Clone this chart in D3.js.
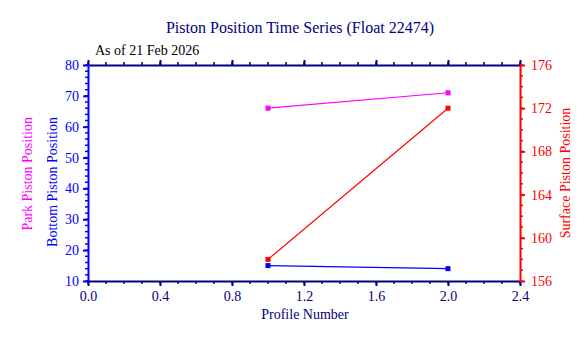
<!DOCTYPE html>
<html>
<head>
<meta charset="utf-8">
<script src="https://cdn.jsdelivr.net/npm/d3@7"></script>
<style>
  html, body { margin: 0; padding: 0; background: #fff; }
  svg { display: block; font-family: "Liberation Serif", "DejaVu Serif", serif; }
</style>
</head>
<body>
<svg id="chart" width="588" height="338"></svg>
<script>
// Piston positions per profile
const profiles = [1, 2];
const parkPosition = [66, 71];
const bottomPosition = [15, 14];
const surfacePosition = [158, 172];

const xTicks = [0.0, 0.4, 0.8, 1.2, 1.6, 2.0, 2.4];
const leftTicks = [10, 20, 30, 40, 50, 60, 70, 80];
const rightTicks = [156, 160, 164, 168, 172, 176];

const titleText = "Piston Position Time Series (Float 22474)";
const dateText = "As of 21 Feb 2026";

const NAVY = "#000080", BLUE = "#0000ff", RED = "#ff0000", MAGENTA = "#ff00ff";

const svg = d3.select("#chart");
const m = { left: 88, right: 520, top: 65, bottom: 281 };

const x = d3.scaleLinear().domain([0, 2.4]).range([m.left, m.right]);
const yL = d3.scaleLinear().domain([10, 80]).range([m.bottom, m.top]);
const yR = d3.scaleLinear().domain([156, 176]).range([m.bottom, m.top]);

// minor tick helper
function minorTicks(g, scale, values, orient, len, color) {
  values.forEach(v => {
    const p = scale(v);
    const line = g.append("line").attr("stroke", color).attr("stroke-width", 1.5);
    if (orient === "left") line.attr("x1", 0).attr("x2", -len).attr("y1", p).attr("y2", p);
    if (orient === "right") line.attr("x1", 0).attr("x2", len).attr("y1", p).attr("y2", p);
    if (orient === "bottom") line.attr("y1", 0).attr("y2", len).attr("x1", p).attr("x2", p);
    if (orient === "top") line.attr("y1", 0).attr("y2", -len).attr("x1", p).attr("x2", p);
  });
}

function styleAxis(g, color) {
  g.select(".domain").attr("stroke", color).attr("stroke-width", 2);
  g.selectAll(".tick line").attr("stroke", color).attr("stroke-width", 2);
  g.selectAll(".tick text").attr("fill", color)
    .attr("font-family", "'Liberation Serif', 'DejaVu Serif', serif")
    .attr("font-size", 14);
}

const xMinor = d3.range(0, 2.401, 0.1).map(v => +v.toFixed(2));
const lMinor = d3.range(10, 80.01, 2);
const rMinor = d3.range(156, 176.01, 1);

// top axis (no labels)
const gTop = svg.append("g").attr("transform", `translate(0,${m.top})`);
gTop.call(d3.axisTop(x).tickValues(xTicks).tickSize(5).tickSizeOuter(0).tickFormat(""));
styleAxis(gTop, NAVY);
minorTicks(gTop, x, xMinor, "top", 3, NAVY);

// bottom axis
const gBot = svg.append("g").attr("transform", `translate(0,${m.bottom})`);
gBot.call(d3.axisBottom(x).tickValues(xTicks).tickSize(5).tickSizeOuter(0).tickPadding(5)
  .tickFormat(d3.format(".1f")));
styleAxis(gBot, NAVY);
minorTicks(gBot, x, xMinor, "bottom", 3, NAVY);

// left axis
const gLeft = svg.append("g").attr("transform", `translate(${m.left},0)`);
gLeft.call(d3.axisLeft(yL).tickValues(leftTicks).tickSize(5).tickSizeOuter(0).tickPadding(4)
  .tickFormat(d3.format("d")));
styleAxis(gLeft, BLUE);
minorTicks(gLeft, yL, lMinor, "left", 3, BLUE);

// right axis
const gRight = svg.append("g").attr("transform", `translate(${m.right},0)`);
gRight.call(d3.axisRight(yR).tickValues(rightTicks).tickSize(5).tickSizeOuter(0).tickPadding(6)
  .tickFormat(d3.format("d")));
styleAxis(gRight, RED);
minorTicks(gRight, yR, rMinor, "right", 3, RED);

// series
function drawSeries(values, yScale, color) {
  const pts = profiles.map((p, i) => [x(p), yScale(values[i])]);
  svg.append("path")
    .attr("d", d3.line()(pts))
    .attr("fill", "none").attr("stroke", color).attr("stroke-width", 1.2);
  svg.selectAll(null).data(pts).enter().append("rect")
    .attr("x", d => d[0] - 2.5).attr("y", d => d[1] - 2.5)
    .attr("width", 5).attr("height", 5).attr("fill", color);
}
drawSeries(parkPosition, yL, MAGENTA);
drawSeries(surfacePosition, yR, RED);
drawSeries(bottomPosition, yL, BLUE);

// titles
svg.append("text").attr("x", 300).attr("y", 33).attr("text-anchor", "middle")
  .attr("fill", NAVY).attr("font-size", 16).text(titleText);
svg.append("text").attr("x", 95).attr("y", 55)
  .attr("fill", "#000").attr("font-size", 14).text(dateText);
svg.append("text").attr("x", 305).attr("y", 319).attr("text-anchor", "middle")
  .attr("fill", NAVY).attr("font-size", 14).text("Profile Number");

svg.append("text").attr("transform", "translate(32,117) rotate(-90)")
  .attr("text-anchor", "end").attr("fill", MAGENTA).attr("font-size", 14)
  .text("Park Piston Position");
svg.append("text").attr("transform", "translate(57,117) rotate(-90)")
  .attr("text-anchor", "end").attr("fill", BLUE).attr("font-size", 14)
  .text("Bottom Piston Position");
svg.append("text").attr("transform", "translate(570,173) rotate(-90)")
  .attr("text-anchor", "middle").attr("fill", RED).attr("font-size", 14)
  .text("Surface Piston Position");
</script>
</body>
</html>
